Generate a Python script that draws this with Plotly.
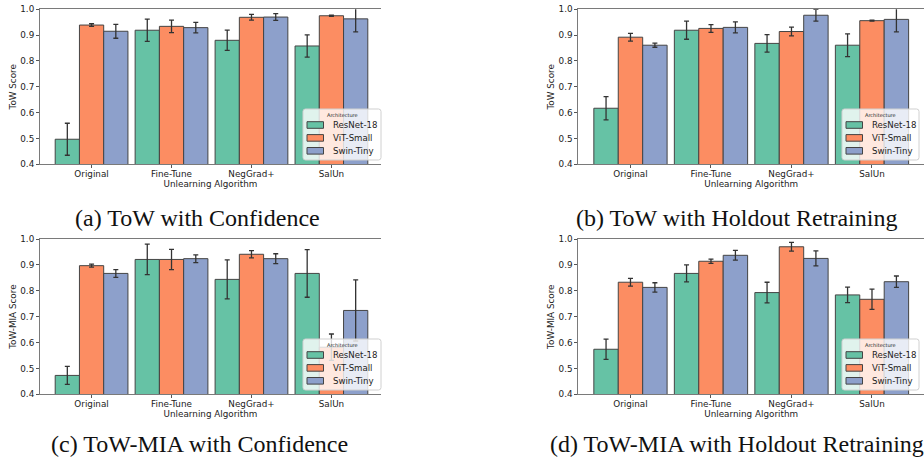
import plotly.graph_objects as go

algorithms = ["Original", "Fine-Tune", "NegGrad+", "SalUn"]
architectures = ["ResNet-18", "ViT-Small", "Swin-Tiny"]
colors = ["#66c2a5", "#fc8d62", "#8da0cb"]

# (a) ToW with Confidence
a_resnet = [0.497, 0.919, 0.880, 0.858]
a_vit = [0.939, 0.934, 0.969, 0.975]
a_swin = [0.915, 0.929, 0.970, 0.963]
a_resnet_err = [0.062, 0.043, 0.039, 0.043]
a_vit_err = [0.005, 0.024, 0.011, 0.002]
a_swin_err = [0.027, 0.020, 0.013, 0.050]

# (b) ToW with Holdout Retraining
b_resnet = [0.617, 0.919, 0.868, 0.861]
b_vit = [0.892, 0.926, 0.914, 0.956]
b_swin = [0.861, 0.930, 0.977, 0.961]
b_resnet_err = [0.045, 0.035, 0.034, 0.044]
b_vit_err = [0.015, 0.015, 0.017, 0.002]
b_swin_err = [0.008, 0.021, 0.023, 0.048]

# (c) ToW-MIA with Confidence
c_resnet = [0.473, 0.921, 0.844, 0.867]
c_vit = [0.897, 0.921, 0.941, 0.582]
c_swin = [0.867, 0.924, 0.924, 0.724]
c_resnet_err = [0.035, 0.059, 0.075, 0.092]
c_vit_err = [0.006, 0.039, 0.014, 0.051]
c_swin_err = [0.015, 0.015, 0.019, 0.118]

# (d) ToW-MIA with Holdout Retraining
d_resnet = [0.574, 0.867, 0.793, 0.784]
d_vit = [0.833, 0.914, 0.970, 0.767]
d_swin = [0.813, 0.937, 0.925, 0.835]
d_resnet_err = [0.039, 0.033, 0.040, 0.030]
d_vit_err = [0.015, 0.008, 0.017, 0.039]
d_swin_err = [0.018, 0.019, 0.029, 0.022]

legend_title = "Architecture"
x_title = "Unlearning Algorithm"
panels = [
    ("", "ToW Score", [a_resnet, a_vit, a_swin], [a_resnet_err, a_vit_err, a_swin_err]),
    ("2", "ToW Score", [b_resnet, b_vit, b_swin], [b_resnet_err, b_vit_err, b_swin_err]),
    ("3", "ToW-MIA Score", [c_resnet, c_vit, c_swin], [c_resnet_err, c_vit_err, c_swin_err]),
    ("4", "ToW-MIA Score", [d_resnet, d_vit, d_swin], [d_resnet_err, d_vit_err, d_swin_err]),
]
captions = ["(a) ToW with Confidence", "(b) ToW with Holdout Retraining",
            "(c) ToW-MIA with Confidence", "(d) ToW-MIA with Holdout Retraining"]

W, H = 924, 458
def px_x(v):
    return v / W
def px_y(v):
    return 1 - v / H

# pixel boxes for each panel: left, right, top, bottom
boxes = [
    (40, 381, 9.3, 164.3),
    (578.3, 924, 9.3, 164.3),
    (40, 381, 239, 394.3),
    (578.3, 924, 239, 394.3),
]
legend_boxes = [(303, 381), (842, 919), (303, 381), (842, 919)]
caption_pos = [(197, 218), (736, 218), (199, 444), (737, 444)]

fig = go.Figure()
layout = dict(
    width=W, height=H, margin=dict(l=0, r=0, t=0, b=0, autoexpand=False),
    paper_bgcolor="white", plot_bgcolor="white",
    barmode="group", bargap=0.09, bargroupgap=0,
    font=dict(family="DejaVu Sans", size=8.8, color="#222"),
    annotations=[], shapes=[], showlegend=False,
)

def rounded_rect(x0, y0, x1, y1, r=2.5):
    X = lambda v: f"{px_x(v):.5f}"
    Y = lambda v: f"{px_y(v):.5f}"
    return (f"M{X(x0 + r)},{Y(y0)} L{X(x1 - r)},{Y(y0)} Q{X(x1)},{Y(y0)} {X(x1)},{Y(y0 + r)} "
            f"L{X(x1)},{Y(y1 - r)} Q{X(x1)},{Y(y1)} {X(x1 - r)},{Y(y1)} "
            f"L{X(x0 + r)},{Y(y1)} Q{X(x0)},{Y(y1)} {X(x0)},{Y(y1 - r)} "
            f"L{X(x0)},{Y(y0 + r)} Q{X(x0)},{Y(y0)} {X(x0 + r)},{Y(y0)} Z")

axis_font = dict(family="DejaVu Sans", size=8.8, color="#222")
for i, (sfx, ytitle, series, errs) in enumerate(panels):
    for j, arch in enumerate(architectures):
        fig.add_trace(go.Bar(
            x=algorithms, y=series[j], name=arch,
            marker=dict(color=colors[j], line=dict(color="#444444", width=1)),
            error_y=dict(type="data", array=errs[j], color="#333333",
                         thickness=1.3, width=2.5),
            xaxis="x" + sfx, yaxis="y" + sfx,
        ))
    l, r, t, b = boxes[i]
    xrng = [-0.645, 3.62] if i in (0, 2) else [-0.648, 3.646]
    layout["xaxis" + sfx] = dict(
        domain=[px_x(l), px_x(r)], anchor="y" + sfx, type="category",
        range=xrng, showline=True, mirror=True, linecolor="#7a7a7a", linewidth=1,
        ticks="outside", ticklen=3, tickcolor="#555", showgrid=False,
        tickfont=axis_font, automargin=False, ticklabelstandoff=-2,
        title=dict(text=x_title, font=axis_font, standoff=0),
    )
    layout["yaxis" + sfx] = dict(
        domain=[px_y(b), px_y(t)], anchor="x" + sfx, range=[0.4, 1.0],
        dtick=0.1, tick0=0.4, tickformat=".1f", showline=True, mirror=False,
        linecolor="#7a7a7a", linewidth=1, ticks="outside", ticklen=3,
        tickcolor="#555", showgrid=False, zeroline=False, tickfont=axis_font,
        automargin=False,
        title=dict(text=ytitle, font=axis_font, standoff=2),
    )

    # legend box (matplotlib-style) inside the lower-right corner
    lx0, lx1 = legend_boxes[i]
    ly1 = b - 4.3
    ly0 = ly1 - 51
    layout["shapes"].append(dict(
        type="path", path=rounded_rect(lx0, ly0, lx1, ly1), xref="paper", yref="paper",
        fillcolor="rgba(255,255,255,0.8)", line=dict(color="#d0d0d0", width=1),
        layer="above",
    ))
    layout["annotations"].append(dict(
        text=legend_title, x=px_x((lx0 + lx1) / 2), y=px_y(ly0 + 5.5),
        xref="paper", yref="paper", xanchor="center", yanchor="middle",
        showarrow=False, font=dict(family="DejaVu Sans", size=5, color="#222"),
    ))
    for j, arch in enumerate(architectures):
        cy = ly0 + 16 + j * 12.9
        layout["shapes"].append(dict(
            type="rect", xref="paper", yref="paper",
            x0=px_x(lx0 + 4), x1=px_x(lx0 + 20.5),
            y0=px_y(cy - 3.3), y1=px_y(cy + 3.3),
            fillcolor=colors[j], line=dict(color="#444444", width=1), layer="above",
        ))
        layout["annotations"].append(dict(
            text=arch, x=px_x(lx0 + 28), y=px_y(cy), xref="paper", yref="paper",
            xanchor="left", yanchor="middle", showarrow=False,
            font=dict(family="DejaVu Sans", size=8.6, color="#222"),
        ))

    cx, cy = caption_pos[i]
    layout["annotations"].append(dict(
        text=captions[i], x=px_x(cx), y=px_y(cy), xref="paper", yref="paper",
        xanchor="center", yanchor="middle", showarrow=False,
        font=dict(family="Liberation Serif, Times New Roman, serif", size=24, color="#111"),
    ))

fig.update_layout(**layout)
fig.write_html("out.html", config={"displayModeBar": False},
               post_script="document.body.style.margin='0';")
